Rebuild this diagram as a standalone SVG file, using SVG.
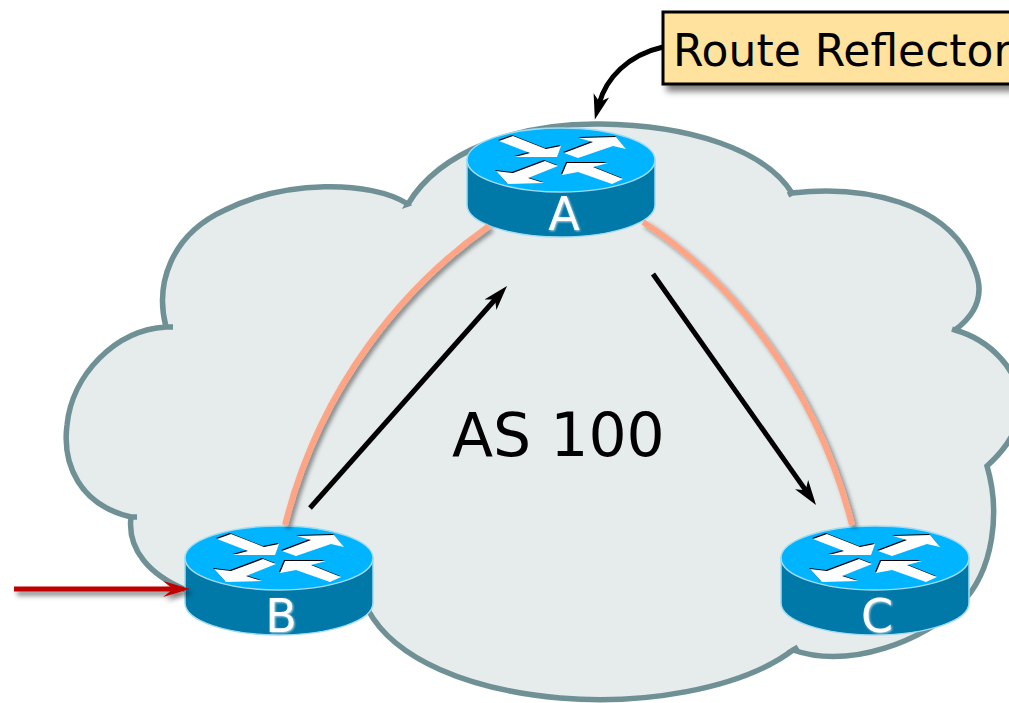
<svg xmlns="http://www.w3.org/2000/svg" width="1009" height="703" viewBox="0 0 1009 703">
<style>
text{font-family:"DejaVu Sans","Liberation Sans",sans-serif}
.cloud{fill:#e6ebeb;stroke:#6f9196;stroke-width:5.5;stroke-linejoin:miter}
.link{fill:none;stroke:#ffa585;stroke-width:6;filter:url(#soft)}
.flow{fill:none;stroke:#000;stroke-width:5;marker-end:url(#blk)}
.rl{font-size:46px;fill:#fff;text-anchor:middle;filter:url(#glow)}
.big{font-size:60px;fill:#000}
.lab{font-size:44px;fill:#000}
</style>
<defs>
<filter id="soft" filterUnits="userSpaceOnUse" x="0" y="0" width="1009" height="703"><feDropShadow dx="3" dy="3" stdDeviation="2" flood-color="#000" flood-opacity=".42"/></filter>
<filter id="redsoft" filterUnits="userSpaceOnUse" x="0" y="560" width="220" height="60"><feDropShadow dx="3" dy="4" stdDeviation="2.5" flood-color="#000" flood-opacity=".5"/></filter>
<filter id="shadow" x="-10%" y="-20%" width="130%" height="150%"><feDropShadow dx="5" dy="6" stdDeviation="3" flood-color="#000" flood-opacity=".5"/></filter>
<filter id="glow" x="-30%" y="-30%" width="160%" height="160%"><feDropShadow dx="1" dy="1" stdDeviation="1.2" flood-color="#b5d6e4" flood-opacity="1"/></filter>
<marker id="blk" markerUnits="userSpaceOnUse" markerWidth="28" markerHeight="20" refX="9" refY="10" orient="auto"><path d="M0 2L25 10L0 18L7 10Z" fill="#000"/></marker>
<marker id="red" markerUnits="userSpaceOnUse" markerWidth="30" markerHeight="20" refX="10" refY="10" orient="auto"><path d="M0 2L27 10L0 18L10 10Z" fill="#c00000"/></marker>
<symbol id="router" overflow="visible" width="1" height="1">
<path d="M-94 32V77A94 32 0 0 0 94 77V32Z" fill="#0078a8" stroke="#9fdcf2" stroke-width="1.5"/>
<ellipse cx="0" cy="32" rx="94" ry="32" fill="#00b4ff" stroke="#9fdcf2" stroke-width="1.5"/>
<g fill="#000" transform="translate(-1 -1)">
<path d="M-62 13L-48 8L-15 21L0 18L-4 29L-46 29L-31 25Z"/>
<path d="M3 25L32 14L18 10L55 9L65 21L52 18L17 30Z"/>
<path d="M-65 43L-48 45L-16 33L-3 38L-33 50L-17 55L-53 56Z"/>
<path d="M1 47L6 35L47 35L32 39L62 51L51 56L17 44Z"/>
</g>
<g fill="#fff">
<path d="M-62 13L-48 8L-15 21L0 18L-4 29L-46 29L-31 25Z"/>
<path d="M3 25L32 14L18 10L55 9L65 21L52 18L17 30Z"/>
<path d="M-65 43L-48 45L-16 33L-3 38L-33 50L-17 55L-53 56Z"/>
<path d="M1 47L6 35L47 35L32 39L62 51L51 56L17 44Z"/>
</g>
</symbol>
</defs>
<path id="as-cloud" class="cloud" d="M408 204C440 150 520 123 600 124C690 125 765 150 792 193L788 195L792 193C860 185 950 200 975 270C985 295 975 315 955 330L952 329L955 330C990 340 1020 370 1020 405C1020 430 1005 450 987 466C1000 510 995 570 960 605C925 640 850 670 793 650L798 647L793 650C740 690 640 705 560 698C470 690 395 660 368 610L186 590C150 575 127 550 131 517L137 517L131 517C80 505 62 465 67 425C72 375 115 330 166 327L173 327L166 327C155 285 170 235 225 210C285 180 370 180 408 204L411 203L408 204Z"/>
<g id="router-a"><use href="#router" x="561" y="128"/><text class="rl" x="564" y="230">A</text></g>
<g id="router-b"><use href="#router" x="279" y="526"/><text class="rl" x="281" y="632">B</text></g>
<g id="router-c"><use href="#router" x="875" y="526"/><text class="rl" x="877" y="632">C</text></g>
<g id="connectors">
<path class="link" d="M489 226C405 285 320 385 285 525"/>
<path class="link" d="M643 222C725 275 815 380 852 525"/>
<path class="flow" d="M310 508L496.4 298"/>
<path class="flow" d="M653 274L806.8 491.9"/>
<path d="M663 47C628 55 606 78 599 104" fill="none" stroke="#000" stroke-width="5" marker-end="url(#blk)"/>
<path d="M14 589H173" fill="none" stroke="#c00000" stroke-width="5" marker-end="url(#red)" filter="url(#redsoft)"/>
</g>
<g id="as-label"><text class="big" x="452" y="456">AS 100</text></g>
<g id="route-reflector"><rect x="663" y="12" width="370" height="72" fill="#fee29d" stroke="#000" stroke-width="3" filter="url(#shadow)"/><text class="lab" x="673" y="66">Route Reflector</text></g>
</svg>
